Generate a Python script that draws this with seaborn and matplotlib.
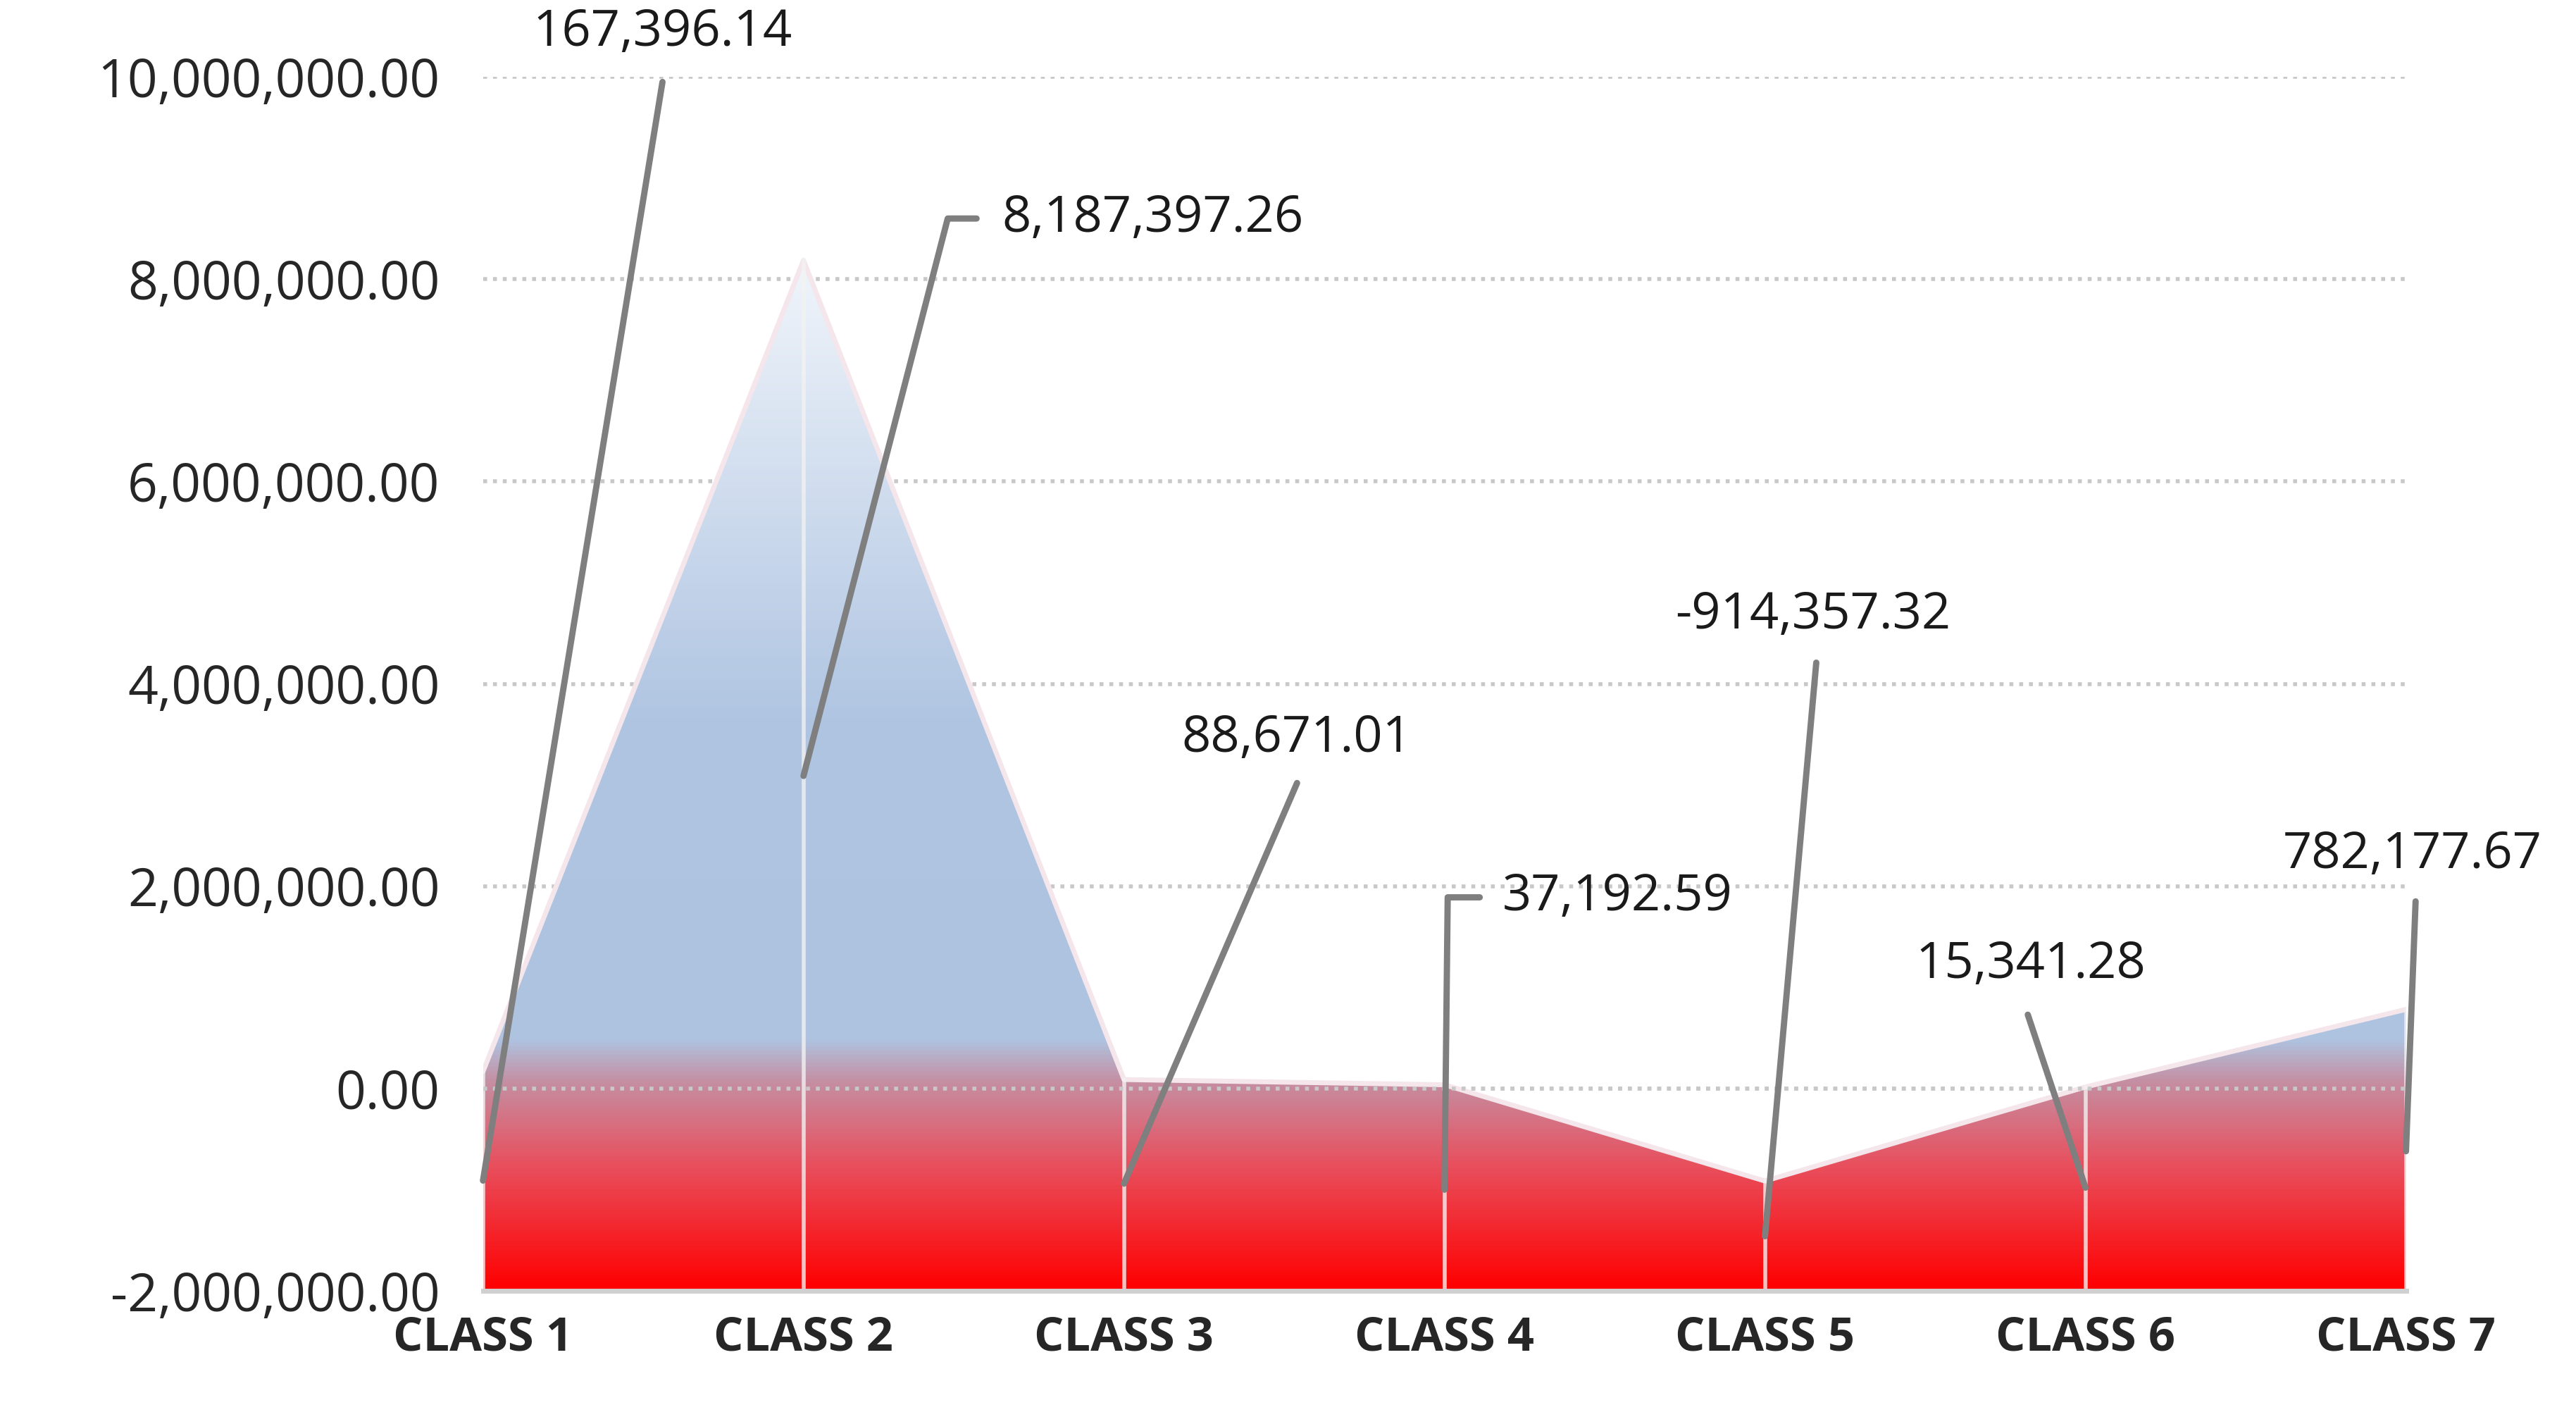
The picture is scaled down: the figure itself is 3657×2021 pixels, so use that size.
import numpy as np
import matplotlib
matplotlib.use("Agg")
import matplotlib.pyplot as plt
import seaborn as sns
from matplotlib.colors import LinearSegmentedColormap
from matplotlib.patches import Polygon

# --- Data ---
classes = ["CLASS 1", "CLASS 2", "CLASS 3", "CLASS 4", "CLASS 5", "CLASS 6", "CLASS 7"]
values = [167396.14, 8187397.26, 88671.01, 37192.59, -914357.32, 15341.28, 782177.67]
labels = ["167,396.14", "8,187,397.26", "88,671.01", "37,192.59", "-914,357.32", "15,341.28", "782,177.67"]
y_ticks = [-2e6, 0, 2e6, 4e6, 6e6, 8e6, 10e6]

# leader lines: (points list), label position, alignment
leaders = [
    ([(0, -0.91e6), (0.56, 9.95e6)], (0.56, 10.44e6), "center"),
    ([(1, 3.09e6), (1.45, 8.6e6), (1.54, 8.6e6)], (1.62, 8.6e6), "left"),
    ([(2, -0.94e6), (2.54, 3.02e6)], (2.54, 3.46e6), "center"),
    ([(3, -1.0e6), (3.01, 1.89e6), (3.11, 1.89e6)], (3.18, 1.89e6), "left"),
    ([(4, -1.46e6), (4.16, 4.21e6)], (4.15, 4.68e6), "center"),
    ([(5, -0.98e6), (4.82, 0.73e6)], (4.83, 1.22e6), "center"),
    ([(6, -0.62e6), (6.03, 1.85e6)], (6.02, 2.31e6), "center"),
]

sns.set_style("white")
plt.rcParams["font.family"] = ["Open Sans", "DejaVu Sans"]

fig = plt.figure(figsize=(18.285, 10.105), dpi=200)
ax = fig.add_axes([0.1875, 0.0935, 0.7465, 0.8525])
ymin, ymax = -2e6, 10e6
x = np.arange(len(classes))

# gradient fill clipped to the area polygon
cmap = LinearSegmentedColormap.from_list("g", [
    (0.0, "#ff0000"), (0.12, "#e8505e"), (0.2, "#c58fa3"), (0.24, "#aec3e0"),
    (0.55, "#b0c5e2"), (1.0, "#f2f6fb")])
grad = np.linspace(0, 1, 512).reshape(-1, 1)
im = ax.imshow(grad, cmap=cmap, origin="lower", aspect="auto",
               extent=[0, 6, ymin, 8.3e6], zorder=1)
poly = Polygon([(0, ymin)] + list(zip(x, values)) + [(6, ymin)], closed=True,
               facecolor="none", edgecolor="none")
ax.add_patch(poly)
im.set_clip_path(poly)

sns.lineplot(x=x, y=values, ax=ax, color="#f4e6ea", linewidth=2.5, zorder=2)
for xi, v in zip(x, values):
    ax.plot([xi, xi], [ymin, v], color="#f2f2f2", linewidth=2, alpha=0.8, zorder=2)

for t in y_ticks[1:]:
    ax.axhline(t, color="#c8c8c8", linestyle=(0, (1, 1.5)), linewidth=2, zorder=0.5)
ax.axhline(0, color="#c8c8c8", linestyle=(0, (1, 1.5)), linewidth=2, zorder=2.5)

for i, (pts, (tx, ty), ha) in enumerate(leaders):
    px, py = zip(*pts)
    ax.plot(px, py, color="#7f7f7f", linewidth=3.2, zorder=3, clip_on=False)
    ax.text(tx, ty, labels[i], ha=ha, va="center", fontsize=26, color="#1a1a1a",
            zorder=4, clip_on=False)

ax.set_xlim(0, 6)
ax.set_ylim(ymin, ymax)
ax.set_yticks(y_ticks)
ax.set_yticklabels([f"{t:,.2f}" for t in y_ticks], fontsize=27)
ax.set_xticks(x)
ax.set_xticklabels(classes, fontsize=24, fontweight="bold")
ax.tick_params(axis="y", length=0, pad=22)
ax.tick_params(axis="x", length=0, pad=12)
for s in ["top", "right", "left"]:
    ax.spines[s].set_visible(False)
ax.spines["bottom"].set_color("#d0d0d0")
ax.spines["bottom"].set_linewidth(2.5)

fig.savefig("out.png", dpi=200)
